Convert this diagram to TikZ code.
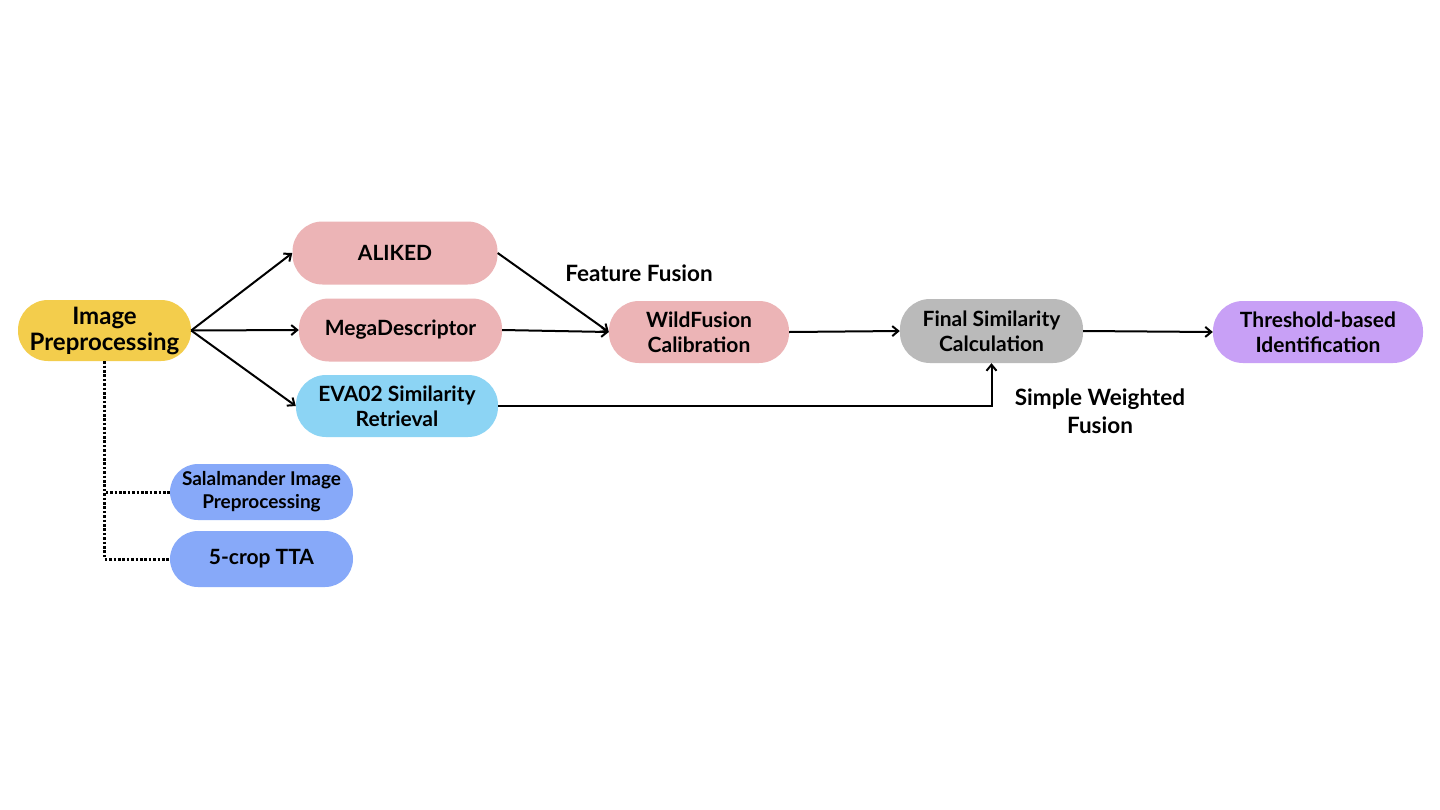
\documentclass[tikz,border=0pt]{standalone}
\usepackage{fontspec}
\setmainfont{Lato}
\usetikzlibrary{arrows.meta}
\definecolor{cyellow}{HTML}{F3CD4C}
\definecolor{cpink}{HTML}{ECB4B6}
\definecolor{cltblue}{HTML}{8CD4F4}
\definecolor{cgray}{HTML}{BABABA}
\definecolor{cpurple}{HTML}{C8A0F6}
\definecolor{cblue}{HTML}{87A9F9}
\tikzset{
  box/.style={rectangle, rounded corners=30pt, draw=none, align=center,
    inner sep=0pt, font=\fontsize{21}{25}\selectfont\bfseries},
  lbl/.style={align=center, inner sep=0pt, font=\fontsize{22.5}{28}\selectfont\bfseries},
  arr/.style={-{Straight Barb[length=6pt,width=10pt,line width=2pt]}, line width=2pt, black},
  dots/.style={line width=3pt, dash pattern=on 2.6pt off 1.8pt, black}
}
\begin{document}
\begin{tikzpicture}[x=1pt,y=-1pt]
\useasboundingbox (0,0) rectangle (1440,809);
\fill[white] (0,0) rectangle (1440,809);
\node[box, fill=cyellow, minimum width=173pt, minimum height=61pt,
  font=\fontsize{24}{26}\selectfont\bfseries] (ip) at (104.5,330.5) {Image\\Preprocessing};
\node[box, fill=cpink, minimum width=205pt, minimum height=63pt] (al) at (395,253) {ALIKED};
\node[box, fill=cpink, minimum width=203pt, minimum height=63pt] (md) at (400.5,330) {MegaDescriptor};
\node[box, fill=cltblue, minimum width=202pt, minimum height=62pt] (eva) at (397,406) {EVA02 Similarity\\Retrieval};
\node[box, fill=cpink, minimum width=180pt, minimum height=62pt] (wf) at (699,332) {WildFusion\\Calibration};
\node[box, fill=cgray, minimum width=183pt, minimum height=64pt] (fs) at (991.5,331) {Final Similarity\\Calculation};
\node[box, fill=cpurple, minimum width=210pt, minimum height=62pt] (th) at (1318,332) {Threshold-based\\Identification};
\node[box, fill=cblue, minimum width=183pt, minimum height=56pt, rounded corners=28pt,
  font=\fontsize{19}{23}\selectfont\bfseries] (sal) at (261.5,492) {Salalmander Image\\Preprocessing};
\node[box, fill=cblue, minimum width=183pt, minimum height=56pt, rounded corners=28pt] (tta) at (261.5,559) {5-crop TTA};
\node[lbl] (ff) at (639,273) {Feature Fusion};
\node[lbl] (swf) at (1100,411) {Simple Weighted\\Fusion};
\draw[arr] (ip.east) -- (al.west);
\draw[arr] (ip.east) -- (md.west);
\draw[arr] (ip.east) -- (eva.west);
\draw[arr] (al.east) -- (wf.west);
\draw[arr] (md.east) -- (wf.west);
\draw[arr] (wf.east) -- (fs.west);
\draw[arr] (fs.east) -- (th.west);
\draw[arr] (eva.east) -| (fs.south);
\draw[dots] (ip.south) |- (sal.west);
\draw[dots] (ip.south) |- (tta.west);
\end{tikzpicture}
\end{document}
